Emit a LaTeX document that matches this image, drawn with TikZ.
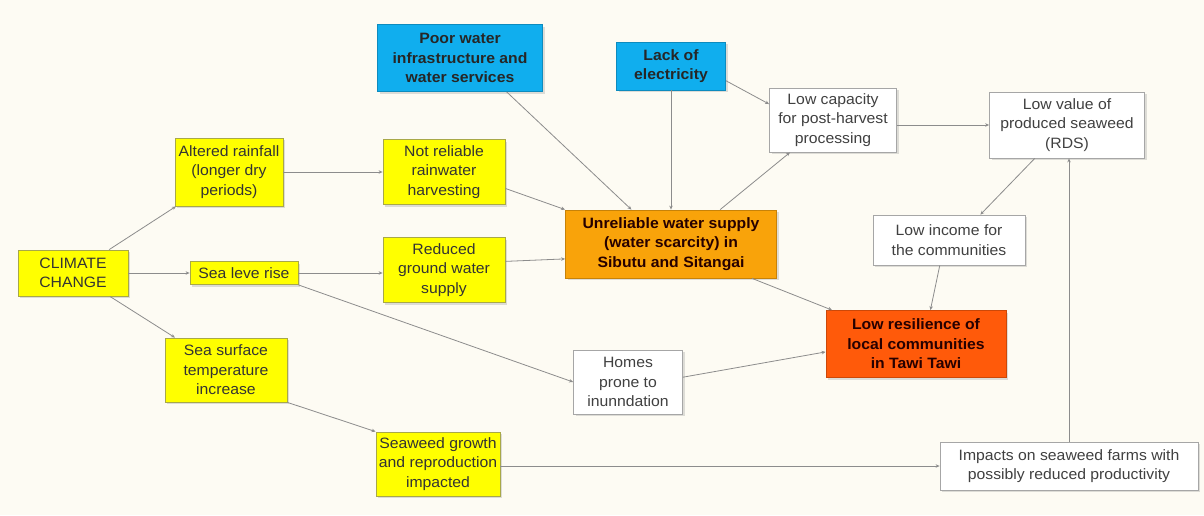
\documentclass[tikz,border=0pt]{standalone}
\usepackage{fontspec}
\setmainfont[FakeStretch=1.05]{Liberation Sans}
\usetikzlibrary{arrows.meta,shadows,calc}
\definecolor{bg}{HTML}{FDFBF3}
\definecolor{yel}{HTML}{FFFF00}
\definecolor{yelb}{HTML}{A8A848}
\definecolor{blu}{HTML}{10AEEE}
\definecolor{orn}{HTML}{F9A30A}
\definecolor{red2}{HTML}{FF5A0A}
\definecolor{edge}{HTML}{8C8C8C}
\definecolor{wbord}{HTML}{A6A6A6}
\begin{document}
\begin{tikzpicture}[x=1pt,y=-1pt,
  every node/.style={font=\fontsize{15}{19.5}\selectfont, align=center, inner sep=2pt},
  box/.style={draw, line width=0.8pt, drop shadow={opacity=0.25, shadow xshift=2pt, shadow yshift=-2pt}},
  ybox/.style={box, fill=yel, draw=yelb, text=black!80},
  bbox/.style={box, fill=blu, draw=blu!80!black, text=black!85, font=\fontsize{15}{19.5}\selectfont\bfseries},
  obox/.style={box, fill=orn, draw=orn!80!black, text=black!85!red, font=\fontsize{15}{19.5}\selectfont\bfseries},
  rbox/.style={box, fill=red2, draw=red2!80!black, text=black!85!red, font=\fontsize{15}{19.5}\selectfont\bfseries},
  wbox/.style={box, fill=white, draw=wbord, text=black!75},
  conn/.style={draw=edge, line width=0.8pt, -{Stealth[length=4pt,width=3.5pt]}}
]
\fill[bg] (0,0) rectangle (1204,515);
\useasboundingbox (0,0) rectangle (1204,515);

\node[ybox, minimum width=110, minimum height=46] (cc) at (73,273) {CLIMATE\\CHANGE};
\node[ybox, minimum width=108, minimum height=68] (alt) at (229,172) {Altered rainfall\\(longer dry\\periods)};
\node[ybox, minimum width=108, minimum height=23, inner sep=1pt] (slr) at (244,273) {Sea leve rise};
\node[ybox, minimum width=122, minimum height=64] (sst) at (226,370) {Sea surface\\temperature\\increase};
\node[ybox, minimum width=122, minimum height=65] (nr) at (444,172) {Not reliable\\rainwater\\harvesting};
\node[ybox, minimum width=122, minimum height=65] (red) at (444,270) {Reduced\\ground water\\supply};
\node[bbox, minimum width=165, minimum height=67] (pw) at (460,58) {Poor water\\infrastructure and\\water services};
\node[bbox, minimum width=109, minimum height=48] (le) at (671,66) {Lack of\\electricity};
\node[obox, minimum width=211, minimum height=68] (uws) at (671,244) {Unreliable water supply\\(water scarcity) in\\Sibutu and Sitangai};
\node[wbox, minimum width=127, minimum height=64] (lc) at (833,120) {Low capacity\\for post-harvest\\processing};
\node[wbox, minimum width=155, minimum height=66] (lv) at (1067,125) {Low value of\\produced seaweed\\(RDS)};
\node[wbox, minimum width=152, minimum height=50] (li) at (949,240) {Low income for\\the communities};
\node[rbox, minimum width=180, minimum height=67] (lr) at (916,344) {Low resilience of\\local communities\\in Tawi Tawi};
\node[wbox, minimum width=109, minimum height=64] (homes) at (628,382) {Homes\\prone to\\inunndation};
\node[ybox, minimum width=124, minimum height=64] (swg) at (438,464) {Seaweed growth\\and reproduction\\impacted};
\node[wbox, minimum width=258, minimum height=48] (imp) at (1069,466) {Impacts on seaweed farms with\\possibly reduced productivity};

\draw[conn] (cc) -- (alt);
\draw[conn] (cc) -- (slr);
\draw[conn] (cc) -- (sst);
\draw[conn] (alt) -- (nr);
\draw[conn] (slr.east) -- (slr.east -| red.west);
\draw[conn] (slr.south east) -- (homes.west);
\draw[conn] (sst.south east) -- (swg.north west);
\draw[conn] (nr.-15) -- (uws.north west);
\draw[conn] (red.8) -- (uws.188);
\draw[conn] (pw.-36) -- (uws.139);
\draw[conn] (le.south) -- (uws.north);
\draw[conn] (le.-15) -- (lc.166);
\draw[conn] (uws.35) -- (lc.217);
\draw[conn] (lc.east |- lv.west) -- (lv.west);
\draw[conn] (lv.226) -- (li.39);
\draw[conn] (li.250) -- (lr.67);
\draw[conn] (uws.337) -- (lr.158);
\draw[conn] (homes.5) -- (lr.185);
\draw[conn] (swg.east |- imp.west) -- (imp.west);
\draw[conn] (imp.north) -- (imp.north |- lv.south);
\end{tikzpicture}
\end{document}
